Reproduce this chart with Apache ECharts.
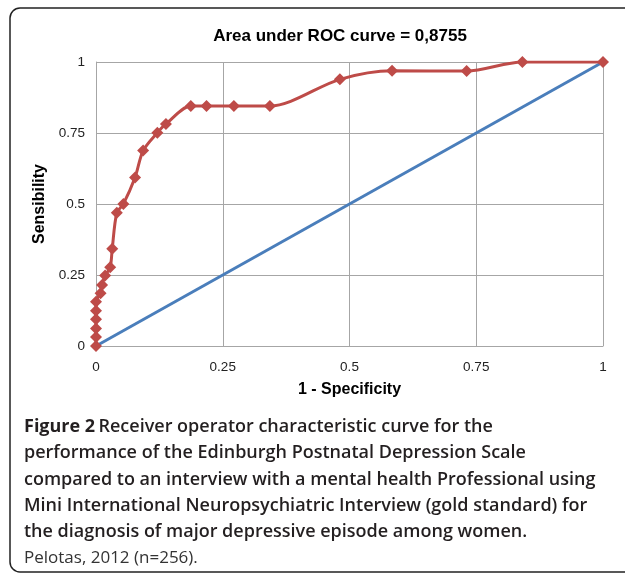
<!DOCTYPE html>
<html>
<head>
<meta charset="utf-8">
<script src="https://cdn.jsdelivr.net/npm/echarts@6/dist/echarts.min.js"></script>
<style>
  html, body { margin: 0; padding: 0; background: #fff; }
  #chart { width: 625px; height: 576px; }
</style>
</head>
<body>
<div id="chart"></div>
<script>
// ROC curve points
var fpr = [0, 0, 0, 0, 0, 0, 0.009, 0.012, 0.018, 0.028, 0.032, 0.041, 0.054, 0.077, 0.093, 0.121, 0.138, 0.187, 0.218, 0.272, 0.343, 0.481, 0.584, 0.731, 0.841, 1];
var tpr = [0, 0.032, 0.062, 0.094, 0.124, 0.156, 0.186, 0.215, 0.248, 0.277, 0.342, 0.469, 0.5, 0.593, 0.688, 0.751, 0.782, 0.845, 0.845, 0.845, 0.845, 0.939, 0.969, 0.968, 1, 1];
// reference diagonal
var diagX = [0, 1];
var diagY = [0, 1];
var ticks = [0, 0.25, 0.5, 0.75, 1];

var chart = echarts.init(document.getElementById('chart'));

var rocData = [];
for (var i = 0; i < fpr.length; i++) {
    rocData.push([fpr[i], tpr[i]]);
}
var diagData = [];
for (var j = 0; j < diagX.length; j++) {
    diagData.push([diagX[j], diagY[j]]);
}

var labelFmt = function (v) {
    return ticks.indexOf(v) >= 0 ? String(v) : '';
};

var option = {
    animation: false,
    title: {
        text: 'Area under ROC curve = 0,8755',
        left: 335,
        textAlign: 'center',
        top: 23,
        textStyle: {
            fontFamily: 'Liberation Sans',
            fontSize: 17,
            fontWeight: 'bold',
            color: '#000'
        }
    },
    grid: {
        left: 96,
        right: 22,
        top: 62,
        bottom: 230
    },
    xAxis: {
        type: 'value',
        min: 0,
        max: 1,
        interval: 0.25,
        name: '1 - Specificity',
        nameLocation: 'middle',
        nameGap: 36,
        nameTextStyle: {
            fontFamily: 'Liberation Sans',
            fontSize: 16,
            fontWeight: 'bold',
            color: '#000'
        },
        axisLine: { lineStyle: { color: '#a6a6a6', width: 1 } },
        axisTick: { show: false },
        axisLabel: {
            formatter: labelFmt,
            margin: 14,
            fontFamily: 'Liberation Sans',
            fontSize: 13.5,
            color: '#222'
        },
        splitLine: { show: true, lineStyle: { color: '#a6a6a6', width: 1 } }
    },
    yAxis: {
        type: 'value',
        min: 0,
        max: 1,
        interval: 0.25,
        name: 'Sensibility',
        nameLocation: 'middle',
        nameGap: 43,
        nameRotate: 90,
        nameTextStyle: {
            fontFamily: 'Liberation Sans',
            fontSize: 16,
            fontWeight: 'bold',
            color: '#000'
        },
        axisLine: { show: true, lineStyle: { color: '#a6a6a6', width: 1 } },
        axisTick: { show: false },
        axisLabel: {
            formatter: labelFmt,
            margin: 11,
            fontFamily: 'Liberation Sans',
            fontSize: 13.5,
            color: '#222'
        },
        splitLine: { show: true, lineStyle: { color: '#a6a6a6', width: 1 } }
    },
    series: [
        {
            name: 'diagonal',
            type: 'line',
            data: diagData,
            showSymbol: false,
            symbol: 'none',
            lineStyle: { color: '#4a7ebb', width: 3 },
            z: 2
        },
        {
            name: 'ROC',
            type: 'line',
            data: rocData,
            smooth: 0.3,
            symbol: 'diamond',
            symbolSize: 12,
            itemStyle: { color: '#be4b48' },
            lineStyle: { color: '#be4b48', width: 3 },
            z: 3
        }
    ],
    graphic: [
        {
            type: 'rect',
            shape: { x: 10, y: 8, width: 640, height: 564, r: 10 },
            style: { fill: 'none', stroke: '#222', lineWidth: 1.5 },
            silent: true
        },
        {
            type: 'text',
            left: 24,
            top: 418,
            style: {
                text: '{b|Figure 2} {s|Receiver operator characteristic curve for the}\n' +
                    '{s|performance of the Edinburgh Postnatal Depression Scale}\n' +
                    '{s|compared to an interview with a mental health Professional using}\n' +
                    '{s|Mini International Neuropsychiatric Interview (gold standard) for}\n' +
                    '{s|the diagnosis of major depressive episode among women.}\n' +
                    '{r|Pelotas, 2012 (n=256).}',
                fill: '#231f20',
                rich: {
                    b: { fontFamily: 'Open Sans', fontSize: 18, fontWeight: 'bold', lineHeight: 26.3, fill: '#231f20' },
                    s: { fontFamily: 'Open Sans', fontSize: 18, fontWeight: 600, lineHeight: 26.3, fill: '#231f20' },
                    r: { fontFamily: 'Open Sans', fontSize: 17, fontWeight: 'normal', lineHeight: 26.3, fill: '#333' }
                }
            }
        }
    ]
};

chart.setOption(option);
</script>
</body>
</html>
